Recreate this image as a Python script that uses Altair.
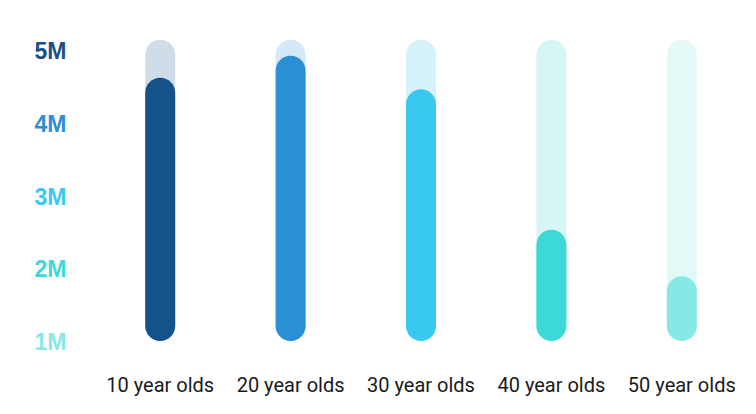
import altair as alt
import pandas as pd

categories = ["10 year olds", "20 year olds", "30 year olds", "40 year olds", "50 year olds"]
values = [4.62, 4.92, 4.46, 2.53, 1.89]
track_max = [5.14, 5.14, 5.14, 5.14, 5.14]
base = [1, 1, 1, 1, 1]
bar_colors = ["#16528a", "#2b8fd6", "#38c9ef", "#3dd9d6", "#86e9e6"]
track_colors = ["#d0dce8", "#d5e8f7", "#d5f2fb", "#d6f6f5", "#e3f9f8"]
tick_values = [1, 2, 3, 4, 5]
tick_colors = ["#86e9e6", "#3dd9d6", "#38c9ef", "#2b8fd6", "#1a4f86"]

df = pd.DataFrame({
    "cat": categories,
    "value": values,
    "track": track_max,
    "base": base,
    "color": bar_colors,
    "tcolor": track_colors,
})

label_color = {
    "condition": [
        {"test": f"datum.value == {v}", "value": c}
        for v, c in zip(tick_values[1:], tick_colors[1:])
    ],
    "value": tick_colors[0],
}

x = alt.X("cat:N", sort=categories, title=None,
          axis=alt.Axis(labelAngle=0, labelFont="Roboto", labelFontSize=20,
                        labelColor="#1a1a1a", ticks=False, domain=False,
                        labelPadding=34, grid=False))
y_scale = alt.Scale(domain=[1, 5], nice=False, zero=False)

track = alt.Chart(df).mark_bar(size=30, cornerRadius=15, clip=False).encode(
    x=x,
    y=alt.Y("track:Q", scale=y_scale, title=None,
            axis=alt.Axis(values=tick_values, labelExpr="datum.value + 'M'",
                          labelFont="Liberation Sans", labelFontWeight="bold",
                          labelFontSize=23, labelColor=label_color,
                          ticks=False, domain=False, grid=False,
                          labelPadding=29, labelOffset=1.5)),
    y2="base:Q",
    color=alt.Color("tcolor:N", scale=None),
)

bars = alt.Chart(df).mark_bar(size=30, cornerRadius=15, clip=False).encode(
    x=x,
    y=alt.Y("value:Q", scale=y_scale),
    y2="base:Q",
    color=alt.Color("color:N", scale=None),
)

chart = alt.layer(track, bars).properties(
    width=652, height=291,
    padding={"left": 87, "top": 42, "right": 0, "bottom": 65},
    autosize=alt.AutoSizeParams(type="none"),
    background="white",
).configure_view(stroke=None)

chart.save("out.html", embed_options={"renderer": "svg", "actions": False})
